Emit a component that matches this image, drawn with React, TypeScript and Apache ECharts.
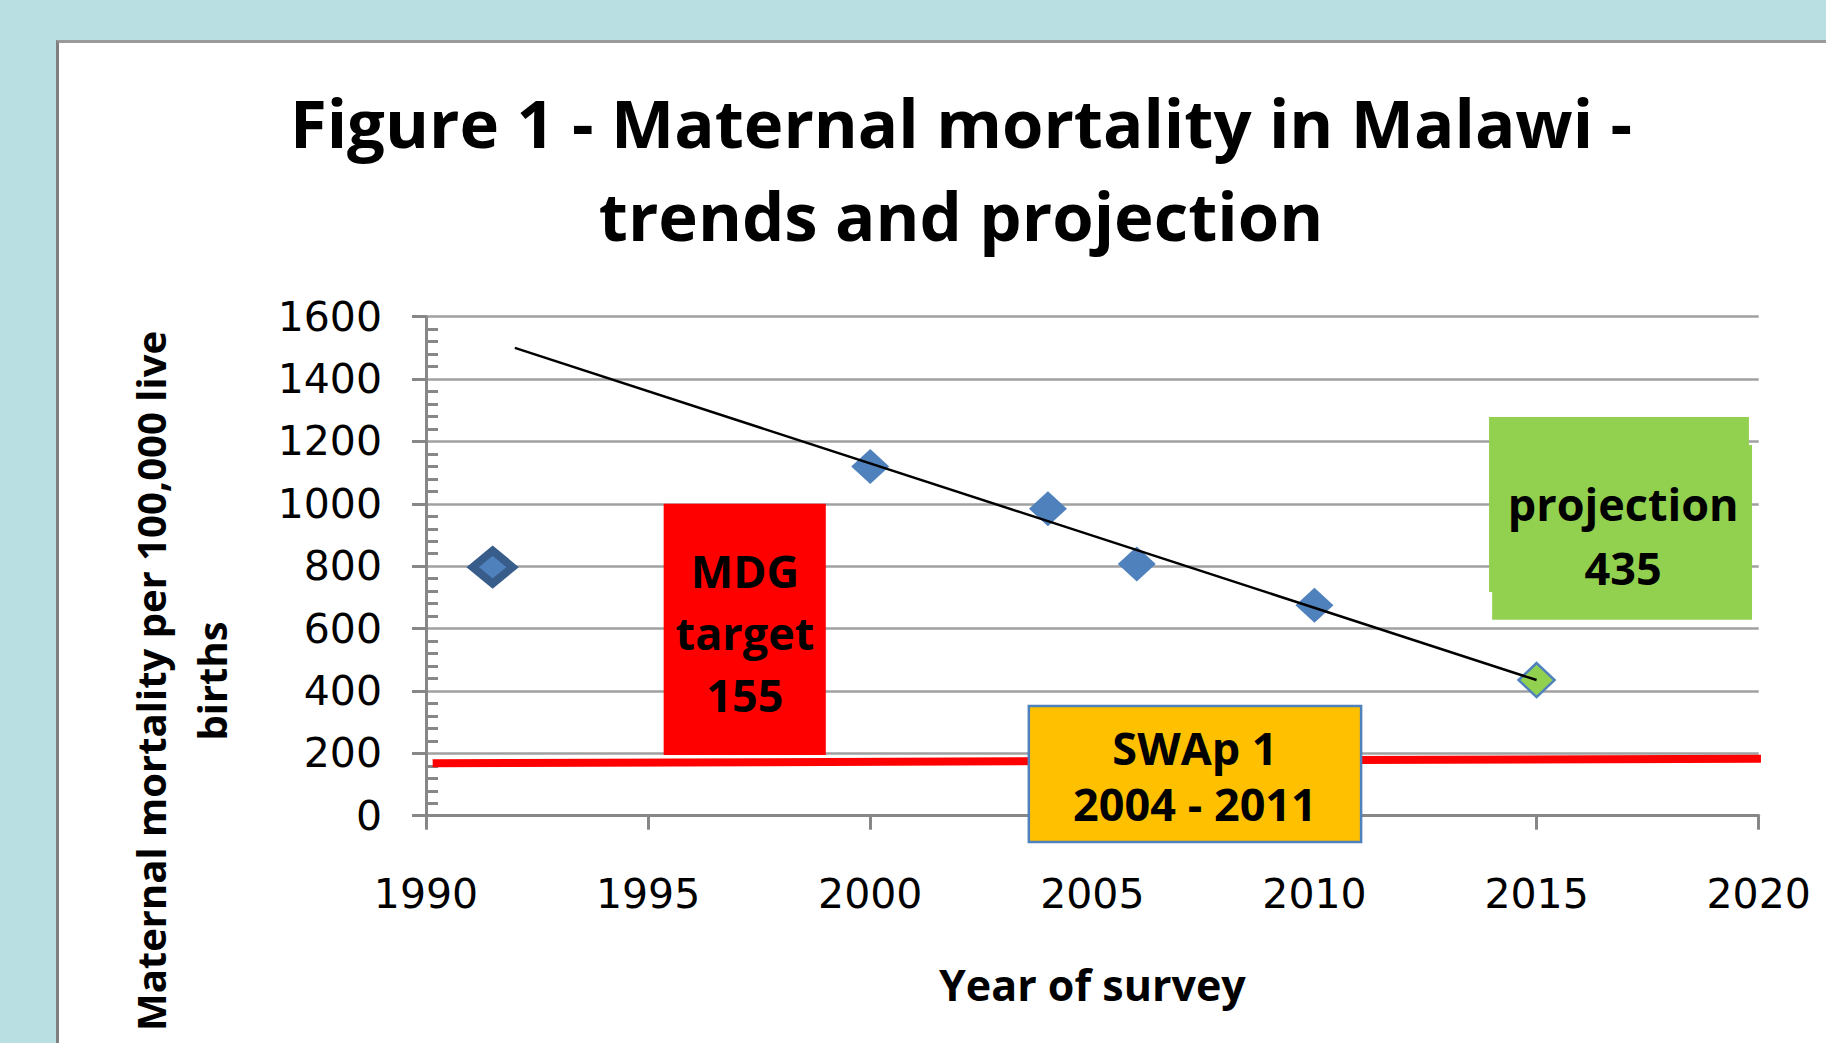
import React, { useEffect, useRef } from "react";
import * as echarts from "echarts";

// ---- data ----
const surveyYears = [1991.5, 2000, 2004, 2006, 2010];
const surveyValues = [797, 1120, 984, 807, 675];
const projectionYears = [2015];
const projectionValues = [435];
const trendYears = [1992, 2015];
const trendValues = [1500, 435];
const targetYears = [1990.15, 2020.05];
const targetValues = [168, 183];

// annotation boxes: [xFrom, yFrom, xTo, yTo]
const boxExtents = [
  [1995.35, 195, 1999.0, 1000],
  [2003.57, -84, 2011.05, 352],
  [2013.93, 717, 2019.78, 1278],
  [2014.0, 628, 2019.85, 1189],
];
const boxLabels = ["MDG\ntarget\n155", "SWAp 1\n2004 - 2011", "projection\n435", ""];
// label anchor (x, y) in data units
const boxLabelX = [1997.18, 2007.31, 2016.95, 0];
const boxLabelY = [588, 130, 897, 0];

const titleText = "Figure 1 - Maternal mortality in Malawi -\ntrends and projection";
const yTitle = "Maternal mortality per 100,000 live\nbirths";
const xTitle = "Year of survey";

const boxFill = ["#FF0000", "#FFC000", "#92D050", "#92D050"];
const boxStroke = [null, "#4F81BD", null, null];
const boxLineHeight = [62, 56, 64, 0];

export default function App() {
  const ref = useRef<HTMLDivElement>(null);
  useEffect(() => {
    if (!ref.current) return;
    const chart = echarts.init(ref.current, null, { renderer: "svg" });
    const tickFont = "DejaVu Sans";
    const boldFont = "Open Sans";

    const surveyData = surveyYears.map((y, i) => {
      const d: any = { value: [y, surveyValues[i]] };
      if (i === 0) {
        d.symbolSize = [40, 33];
        d.itemStyle = { color: "#4F81BD", borderColor: "#385D8A", borderWidth: 8 };
      }
      return d;
    });

    chart.setOption({
      animation: false,
      title: {
        text: titleText,
        left: 961,
        top: 75,
        textAlign: "center",
        padding: 0,
        textStyle: {
          fontFamily: boldFont,
          fontWeight: "bold",
          fontSize: 67,
          lineHeight: 93,
          color: "#000",
        },
      },
      grid: { left: 426, right: 67.3, top: 316.7, bottom: 227.3, containLabel: false },
      xAxis: {
        type: "value",
        min: 1990,
        max: 2020,
        interval: 5,
        name: xTitle,
        nameLocation: "middle",
        nameGap: 147,
        nameTextStyle: { fontFamily: boldFont, fontWeight: "bold", fontSize: 43, color: "#000" },
        axisLine: { show: true, onZero: false, lineStyle: { color: "#878787", width: 3 } },
        axisTick: { show: true, length: 14, lineStyle: { color: "#878787", width: 3 } },
        axisLabel: {
          margin: 58,
          fontFamily: tickFont,
          fontSize: 41,
          color: "#000",
          formatter: (v: number) => String(v),
        },
        splitLine: { show: false },
      },
      yAxis: {
        type: "value",
        min: 0,
        max: 1600,
        interval: 200,
        axisLine: { show: true, lineStyle: { color: "#878787", width: 3 } },
        axisTick: { show: true, length: 14, lineStyle: { color: "#878787", width: 3 } },
        minorTick: { show: true, splitNumber: 5, length: -12, lineStyle: { color: "#878787", width: 3 } },
        axisLabel: {
          margin: 44,
          fontFamily: tickFont,
          fontSize: 41,
          color: "#000",
          formatter: (v: number) => String(v),
        },
        splitLine: { show: true, lineStyle: { color: "#A0A0A0", width: 2.5 } },
      },
      graphic: [
        {
          type: "text",
          x: 181,
          y: 681,
          rotation: Math.PI / 2,
          style: {
            text: yTitle,
            align: "center",
            verticalAlign: "middle",
            textAlign: "center",
            textVerticalAlign: "middle",
            lineHeight: 61,
            fontFamily: boldFont,
            fontWeight: "bold",
            fontSize: 40,
            fill: "#000",
          },
        },
      ],
      series: [
        {
          name: "MDG target line",
          type: "line",
          data: targetYears.map((y, i) => [y, targetValues[i]]),
          symbol: "none",
          clip: false,
          lineStyle: { color: "#FF0000", width: 8 },
          z: 3,
        },
        {
          name: "Surveys",
          type: "scatter",
          data: surveyData,
          symbol: "diamond",
          symbolSize: [38, 35],
          itemStyle: { color: "#4F81BD", opacity: 1 },
          z: 4,
        },
        {
          name: "Projection",
          type: "scatter",
          data: projectionYears.map((y, i) => [y, projectionValues[i]]),
          symbol: "diamond",
          symbolSize: [36, 34],
          itemStyle: { color: "#92D050", borderColor: "#4F81BD", borderWidth: 2.5, opacity: 1 },
          z: 4,
        },
        {
          name: "Trend",
          type: "line",
          data: trendYears.map((y, i) => [y, trendValues[i]]),
          symbol: "none",
          lineStyle: { color: "#000", width: 2.5 },
          z: 5,
        },
        {
          name: "Boxes",
          type: "custom",
          clip: false,
          z: 6,
          data: boxExtents.map((b) => b),
          encode: { x: [0, 2], y: [1, 3] },
          renderItem: (params: any, api: any) => {
            const i = params.dataIndex;
            const b = boxExtents[i];
            const p0 = api.coord([b[0], b[3]]);
            const p1 = api.coord([b[2], b[1]]);
            return {
              type: "rect",
              shape: { x: p0[0], y: p0[1], width: p1[0] - p0[0], height: p1[1] - p0[1] },
              style: {
                fill: boxFill[i],
                stroke: boxStroke[i] || undefined,
                lineWidth: boxStroke[i] ? 2.5 : 0,
              },
            };
          },
        },
        {
          name: "Box labels",
          type: "custom",
          clip: false,
          z: 7,
          data: boxLabels.map((t, i) => [boxLabelX[i], boxLabelY[i]]),
          renderItem: (params: any, api: any) => {
            const i = params.dataIndex;
            if (!boxLabels[i]) return null;
            const p = api.coord([boxLabelX[i], boxLabelY[i]]);
            return {
              type: "text",
              x: p[0],
              y: p[1],
              style: {
                text: boxLabels[i],
                align: "center",
                verticalAlign: "middle",
                lineHeight: boxLineHeight[i],
                fontFamily: boldFont,
                fontWeight: "bold",
                fontSize: 45,
                fill: "#000",
              },
            };
          },
        },
      ],
    });
    return () => chart.dispose();
  }, []);

  return (
    <div
      style={{
        position: "fixed",
        left: 0,
        top: 0,
        width: 1826,
        height: 1043,
        background: "#BADFE3",
        overflow: "hidden",
      }}
    >
      <div
        style={{
          position: "absolute",
          left: 56,
          top: 40,
          width: 1800,
          height: 1100,
          background: "#FFFFFF",
          borderLeft: "3px solid #7F7F7F",
          borderTop: "3px solid #9A9A9A",
        }}
      />
      <div ref={ref} style={{ position: "absolute", left: 0, top: 0, width: 1826, height: 1043 }} />
    </div>
  );
}
